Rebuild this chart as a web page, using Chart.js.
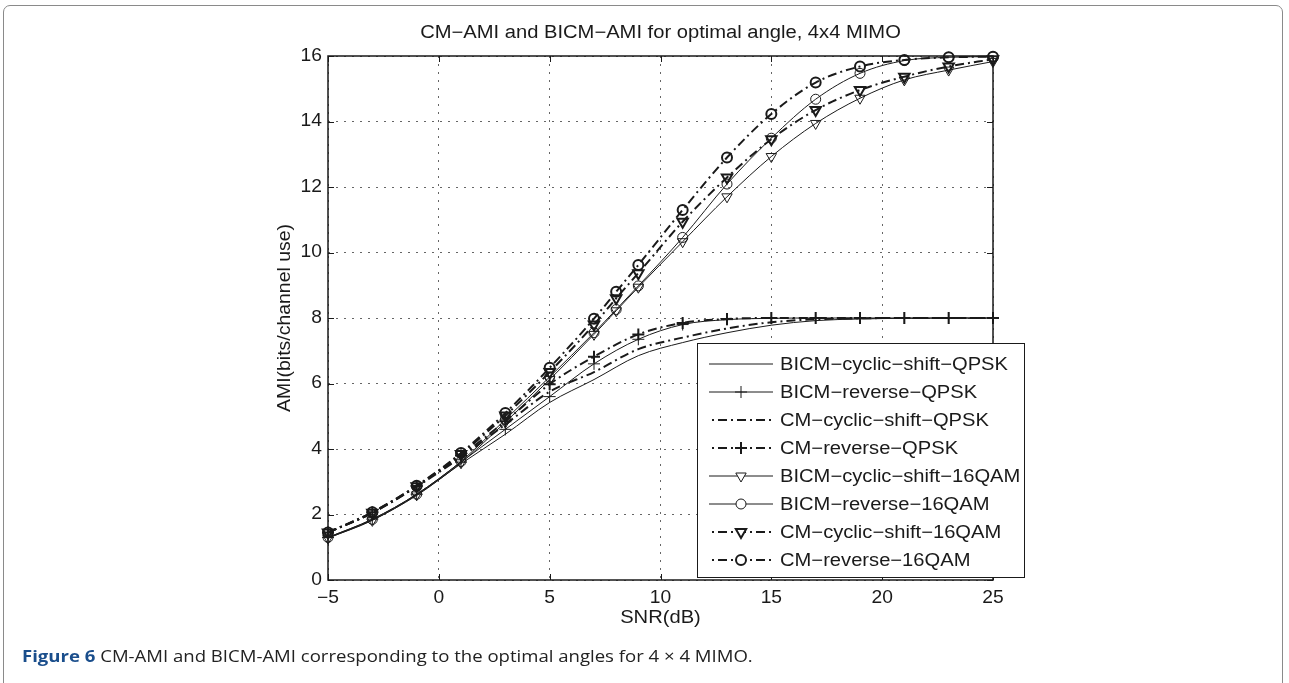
<!DOCTYPE html>
<html>
<head>
<meta charset="utf-8">
<script src="https://cdn.jsdelivr.net/npm/chart.js"></script>
<style>
  html, body { margin: 0; padding: 0; background: #fff; }
  #wrap { position: relative; width: 1289px; height: 683px; overflow: hidden; }
  #frame {
    position: absolute; left: 3px; top: 5px; width: 1280px; height: 720px;
    border: 1px solid #8a8a8a; border-radius: 7px; box-sizing: border-box;
  }
  #caption {
    position: absolute; left: 22px; top: 645px; margin: 0;
    font: 16px "Open Sans", sans-serif; color: #222; white-space: nowrap;
    transform: scaleX(1.16); transform-origin: left center;
  }
  #caption b { color: #1a4e8c; }
  canvas { position: absolute; left: 0; top: 0; }
</style>
</head>
<body>
<div id="wrap">
  <div id="frame"></div>
  <canvas id="chart" width="1289" height="683"></canvas>
  <p id="caption"><b>Figure 6</b> CM-AMI and BICM-AMI corresponding to the optimal angles for 4 × 4 MIMO.</p>
</div>
<script>
// SNR points (dB)
const snrQpsk = [-5, -3, -1, 1, 3, 5, 7, 9, 11, 13, 15, 17, 19, 21, 23, 25];
const snr16qam = [-5, -3, -1, 1, 3, 5, 7, 8, 9, 11, 13, 15, 17, 19, 21, 23, 25];

// AMI values (bits/channel use)
const bicmCyclicQpsk = [1.28, 1.83, 2.58, 3.55, 4.45, 5.42, 6.12, 6.85, 7.25, 7.55, 7.78, 7.92, 7.97, 7.99, 8, 8];
const bicmReverseQpsk = [1.3, 1.86, 2.62, 3.6, 4.6, 5.6, 6.6, 7.35, 7.8, 7.95, 7.99, 8, 8, 8, 8, 8];
const cmCyclicQpsk = [1.45, 2.05, 2.85, 3.75, 4.75, 5.75, 6.35, 7.05, 7.4, 7.68, 7.87, 7.96, 7.99, 8, 8, 8];
const cmReverseQpsk = [1.45, 2.07, 2.87, 3.8, 4.85, 5.98, 6.82, 7.5, 7.85, 7.97, 8, 8, 8, 8, 8, 8];

const bicmCyclic16qam = [1.28, 1.82, 2.6, 3.58, 4.82, 6.12, 7.5, 8.22, 8.94, 10.33, 11.7, 12.93, 13.94, 14.71, 15.27, 15.57, 15.83];
const bicmReverse16qam = [1.3, 1.85, 2.62, 3.62, 4.9, 6.2, 7.55, 8.26, 8.98, 10.46, 12.09, 13.49, 14.68, 15.47, 15.86, 15.96, 15.98];
const cmCyclic16qam = [1.45, 2.05, 2.86, 3.85, 5.02, 6.35, 7.8, 8.6, 9.37, 10.94, 12.29, 13.46, 14.35, 14.96, 15.37, 15.68, 15.9];
const cmReverse16qam = [1.45, 2.07, 2.88, 3.88, 5.1, 6.48, 7.98, 8.8, 9.62, 11.3, 12.9, 14.23, 15.19, 15.68, 15.88, 15.96, 15.98];

const xTicks = [-5, 0, 5, 10, 15, 20, 25];
const yTicks = [0, 2, 4, 6, 8, 10, 12, 14, 16];

const chartTitle = 'CM\u2212AMI and BICM\u2212AMI for optimal angle, 4x4 MIMO';
const xTitle = 'SNR(dB)';
const yTitle = 'AMI(bits/channel use)';

const ink = '#1a1a1a';
const font = '"Liberation Sans", Arial, sans-serif';
const dashDot = [9, 4, 2, 4];
const stretch = 1.12; // the figure's text is a bit wide

function series(label, xs, ys, opts) {
    return Object.assign({
        label: label,
        data: xs.map((x, i) => ({ x: x, y: ys[i] })),
        borderColor: ink,
        backgroundColor: 'rgba(0,0,0,0)',
        pointBorderColor: ink,
        pointBackgroundColor: 'rgba(0,0,0,0)',
        borderWidth: 1,
        pointRadius: 0,
        pointHoverRadius: 0,
        pointBorderWidth: 1,
        cubicInterpolationMode: 'monotone',
        fill: false,
        clip: false
    }, opts);
}

const datasets = [
    series('BICM\u2212cyclic\u2212shift\u2212QPSK', snrQpsk, bicmCyclicQpsk, {}),
    series('BICM\u2212reverse\u2212QPSK', snrQpsk, bicmReverseQpsk, { pointStyle: 'cross', pointRadius: 6 }),
    series('CM\u2212cyclic\u2212shift\u2212QPSK', snrQpsk, cmCyclicQpsk, { borderWidth: 2, borderDash: dashDot }),
    series('CM\u2212reverse\u2212QPSK', snrQpsk, cmReverseQpsk, { borderWidth: 2, borderDash: dashDot, pointStyle: 'cross', pointRadius: 6, pointBorderWidth: 2 }),
    series('BICM\u2212cyclic\u2212shift\u221216QAM', snr16qam, bicmCyclic16qam, { pointStyle: 'triangle', pointRotation: 180, pointRadius: 6 }),
    series('BICM\u2212reverse\u221216QAM', snr16qam, bicmReverse16qam, { pointStyle: 'circle', pointRadius: 5 }),
    series('CM\u2212cyclic\u2212shift\u221216QAM', snr16qam, cmCyclic16qam, { borderWidth: 2, borderDash: dashDot, pointStyle: 'triangle', pointRotation: 180, pointRadius: 6, pointBorderWidth: 2 }),
    series('CM\u2212reverse\u221216QAM', snr16qam, cmReverse16qam, { borderWidth: 2, borderDash: dashDot, pointStyle: 'circle', pointRadius: 5, pointBorderWidth: 2 })
];

function wideText(ctx, text, x, y, align, sx) {
    ctx.save();
    ctx.translate(x, y);
    ctx.scale(sx, 1);
    ctx.textAlign = align;
    ctx.fillText(text, 0, 0);
    ctx.restore();
}

// box, inward ticks, tick labels and axis titles, MATLAB style
const axesBox = {
    id: 'axesBox',
    afterDatasetsDraw(chart) {
        const { ctx, chartArea: a, scales: { x, y } } = chart;
        ctx.save();
        ctx.strokeStyle = ink;
        ctx.lineWidth = 1;
        ctx.beginPath();
        xTicks.forEach(v => {
            const px = Math.round(x.getPixelForValue(v)) + 0.5;
            ctx.moveTo(px, a.bottom); ctx.lineTo(px, a.bottom - 6);
            ctx.moveTo(px, a.top); ctx.lineTo(px, a.top + 6);
        });
        yTicks.forEach(v => {
            const py = Math.round(y.getPixelForValue(v)) + 0.5;
            ctx.moveTo(a.left, py); ctx.lineTo(a.left + 6, py);
            ctx.moveTo(a.right, py); ctx.lineTo(a.right - 6, py);
        });
        ctx.stroke();
        ctx.lineWidth = 1.5;
        ctx.strokeRect(a.left, a.top, a.right - a.left, a.bottom - a.top);

        ctx.fillStyle = ink;
        ctx.textBaseline = 'middle';
        ctx.font = '17.5px ' + font;
        xTicks.forEach(v => {
            wideText(ctx, String(v).replace('-', '\u2212'), x.getPixelForValue(v), a.bottom + 18, 'center', 1.1);
        });
        yTicks.forEach(v => {
            wideText(ctx, String(v), a.left - 6, y.getPixelForValue(v), 'right', 1.1);
        });

        ctx.font = '18px ' + font;
        const cx = (a.left + a.right) / 2;
        wideText(ctx, chartTitle, cx, 33, 'center', stretch);
        wideText(ctx, xTitle, cx, 618, 'center', stretch);
        ctx.translate(285, (a.top + a.bottom) / 2);
        ctx.rotate(-Math.PI / 2);
        wideText(ctx, yTitle, 0, 0, 'center', 1.08);
        ctx.restore();
    }
};

// legend box sitting over the lower right of the plot
const boxLegend = {
    id: 'boxLegend',
    afterDraw(chart) {
        const ctx = chart.ctx;
        const left = 697, top = 343, right = 1024, bottom = 577;
        const rowH = 28;
        ctx.save();
        ctx.fillStyle = '#fff';
        ctx.fillRect(left, top, right - left, bottom - top);
        ctx.strokeStyle = ink;
        ctx.lineWidth = 1;
        ctx.strokeRect(left + 0.5, top + 0.5, right - left, bottom - top);

        ctx.font = '18px ' + font;
        ctx.textBaseline = 'middle';
        chart.data.datasets.forEach((d, i) => {
            const yy = top + 21 + i * rowH;
            ctx.strokeStyle = ink;
            ctx.lineWidth = d.borderWidth;
            ctx.setLineDash(d.borderDash || []);
            ctx.lineDashOffset = d.borderDash ? 10 : 0;
            ctx.beginPath();
            ctx.moveTo(709, yy);
            ctx.lineTo(773, yy);
            ctx.stroke();
            ctx.setLineDash([]);
            if (d.pointRadius > 0) {
                ctx.fillStyle = '#fff';
                Chart.helpers.drawPoint(ctx, {
                    pointStyle: d.pointStyle,
                    rotation: d.pointRotation || 0,
                    radius: d.pointRadius,
                    borderWidth: d.pointBorderWidth
                }, 741, yy);
            }
            ctx.fillStyle = ink;
            wideText(ctx, d.label, 780, yy + 1, 'left', stretch);
        });
        ctx.restore();
    }
};

new Chart(document.getElementById('chart'), {
    type: 'line',
    data: { datasets: datasets },
    options: {
        responsive: false,
        animation: false,
        events: [],
        layout: { padding: { left: 0, top: 56, right: 296, bottom: 0 } },
        plugins: {
            legend: { display: false },
            tooltip: { enabled: false },
            title: { display: false }
        },
        scales: {
            x: {
                type: 'linear',
                min: -5,
                max: 25,
                afterBuildTicks: s => { s.ticks = xTicks.map(v => ({ value: v })); },
                afterFit: s => { s.height = 103; },
                ticks: { display: false },
                grid: { color: '#666', lineWidth: 1, drawTicks: false },
                border: { display: false, dash: [2, 6] }
            },
            y: {
                type: 'linear',
                min: 0,
                max: 16,
                afterBuildTicks: s => { s.ticks = yTicks.map(v => ({ value: v })); },
                afterFit: s => { s.width = 328; },
                ticks: { display: false },
                grid: { color: '#666', lineWidth: 1, drawTicks: false },
                border: { display: false, dash: [2, 6] }
            }
        }
    },
    plugins: [axesBox, boxLegend]
});
</script>
</body>
</html>
